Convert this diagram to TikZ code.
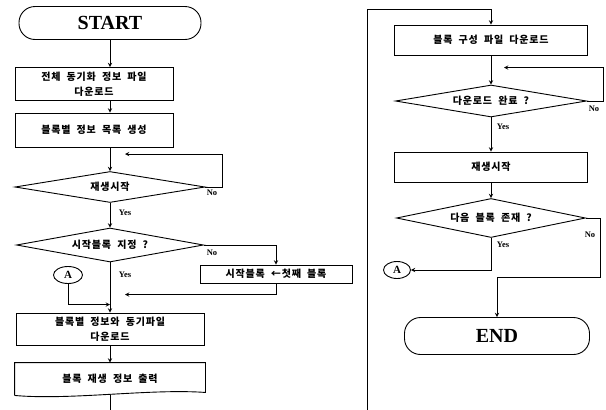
\documentclass[tikz,border=0pt]{standalone}
\usepackage{fontspec}
\setmainfont{Liberation Serif}
\newfontfamily\kr{Noto Sans CJK KR}[LetterSpace=8,WordSpace=2]
\usetikzlibrary{arrows.meta,arrows}
\usetikzlibrary{shapes.geometric}
\tikzset{
  procbox/.style={draw, rectangle, inner sep=0pt, align=center,
    font=\kr\bfseries\fontsize{10}{15}\selectfont},
  decbox/.style={draw, diamond, aspect=5.5, inner sep=0pt,
    font=\kr\bfseries\fontsize{10}{12}\selectfont},
  termbox/.style={draw, rectangle, rounded corners=16pt, inner sep=0pt,
    font=\bfseries\fontsize{20}{24}\selectfont},
  connbox/.style={draw, ellipse, inner sep=0pt,
    font=\bfseries\fontsize{11}{12}\selectfont},
  yesno/.style={inner sep=0pt, font=\bfseries\fontsize{8.5}{10}\selectfont}
}

\begin{document}
\begin{tikzpicture}[x=1pt,y=-1pt,line width=0.9pt]
\useasboundingbox (0,0) rectangle (606,410);
% left column
\node[termbox, minimum width=182, minimum height=33] (start) at (110,23) {START};
\node[procbox, minimum width=158, minimum height=33] (fullsync) at (94,84) {전체 동기화 정보 파일\\다운로드};
\node[procbox, minimum width=158, minimum height=34] (blocklist) at (94,130) {블록별 정보 목록 생성};
\node[decbox, minimum width=190, minimum height=31] (playq) at (110,187) {재생시작};
\node[decbox, minimum width=187, minimum height=34] (startq) at (110,245) {시작블록 지정 ?};
\node[procbox, minimum width=152, minimum height=18] (firstblk) at (276,274) {시작블록 ←첫째 블록};
\node[connbox, minimum width=29, minimum height=17] (conA) at (68,275) {A};
\node[procbox, minimum width=188, minimum height=32] (syncdown) at (110,329) {블록별 정보와 동기파일\\다운로드};
\node[procbox, draw=none, minimum width=190, minimum height=32] (blkinfo) at (110,379) {블록 재생 정보 출력};
\coordinate (leftend) at (110,410);
% right column
\coordinate (rightend) at (367,410);
\node[procbox, minimum width=193, minimum height=30] (cfgdown) at (491,40) {블록 구성 파일 다운로드};
\node[decbox, minimum width=191, minimum height=32] (doneq) at (491,101) {다운로드 완료 ?};
\node[procbox, minimum width=193, minimum height=30] (play) at (491,167) {재생시작};
\node[decbox, minimum width=189, minimum height=39] (nextq) at (491,218) {다음 블록 존재 ?};
\node[connbox, minimum width=27, minimum height=17] (conB) at (397,270) {A};
\node[termbox, minimum width=185, minimum height=37] (finish) at (497,336) {END};
% labels
\node[yesno] (yes1) at (125,213) {Yes};
\node[yesno] (no1) at (212,193) {No};
\node[yesno] (no2) at (212,253) {No};
\node[yesno] (yes2) at (125,275) {Yes};
\node[yesno] (yes3) at (503,127) {Yes};
\node[yesno] (no3) at (594,109) {No};
\node[yesno] (yes4) at (503,245) {Yes};
\node[yesno] (no4) at (590,235) {No};
% output box with wavy bottom
\draw (blkinfo.south west) -- (blkinfo.north west) -- (blkinfo.north east)
  -- ([yshift=3pt]blkinfo.south east)
  .. controls ([xshift=-55pt,yshift=7pt]blkinfo.south east) and ([xshift=55pt,yshift=-5pt]blkinfo.south west) .. (blkinfo.south west);
% draw the arrows
\draw[-stealth] (start.south) -- (start.south |- fullsync.north);
\draw[-stealth] (start.south |- fullsync.south) -- (start.south |- blocklist.north);
\draw[-stealth] (start.south |- blocklist.south) -- (playq.north);
\draw[-stealth] (playq.east) -- ++(17,0) |- ([xshift=15pt,yshift=17pt]playq.north);
\draw[-stealth] (playq.south) -- (startq.north);
\draw[-stealth] (startq.east) -| (firstblk.north);
\draw[-stealth] (firstblk.south) |- ([xshift=15pt,yshift=18pt]syncdown.north);
\draw[-stealth] (startq.south) -- (syncdown.north);
\draw[-stealth] (conA.south) |- ([yshift=8pt]syncdown.north);
\draw[-stealth] (syncdown.south) -- (blkinfo.north);
\draw (blkinfo.south) -- (leftend);
\draw[-stealth] (rightend) |- ([yshift=15pt]cfgdown.north) -- (cfgdown.north);
\draw[-stealth] (cfgdown.south) -- (doneq.north);
\draw[-stealth] (doneq.east) -- ++(16,0) |- ([xshift=13pt,yshift=17pt]doneq.north);
\draw[-stealth] (doneq.south) -- (play.north);
\draw[-stealth] (play.south) -- (nextq.north);
\draw[-stealth] (nextq.south) |- (conB.east);
\draw[-stealth] (nextq.east) -| ++(14,59) -| (finish.north);
\end{tikzpicture}
\end{document}
